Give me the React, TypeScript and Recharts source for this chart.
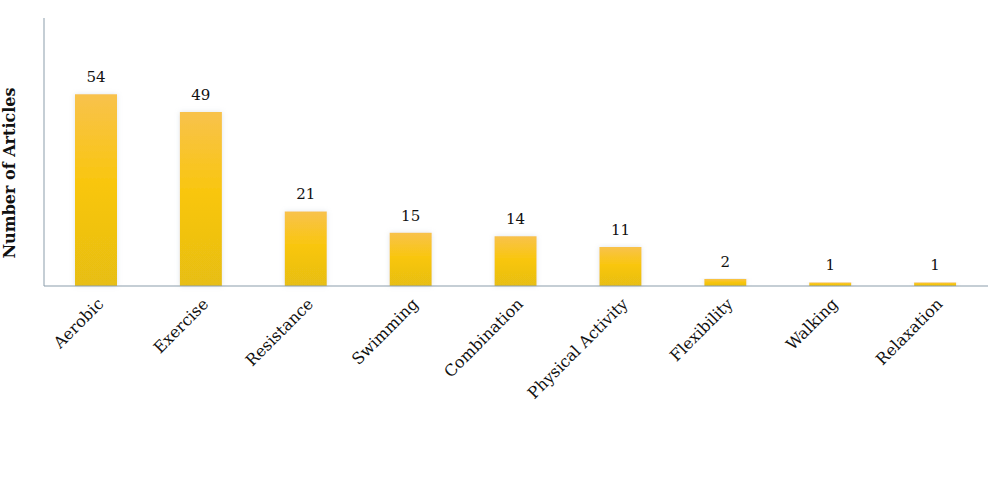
import React from 'react';
import { BarChart, Bar, XAxis, YAxis, LabelList, Label } from 'recharts';

const categories = ['Aerobic', 'Exercise', 'Resistance', 'Swimming', 'Combination', 'Physical Activity', 'Flexibility', 'Walking', 'Relaxation'];
const articleCounts = [54, 49, 21, 15, 14, 11, 2, 1, 1];
const yAxisTitle = 'Number of Articles';

const data = categories.map((name, i) => ({ name, value: articleCounts[i] }));

const FONT = '"DejaVu Serif", serif';

const YTitle = (props: any) => {
  const vb = props.viewBox || {};
  const cx = 15;
  const cy = vb.y + vb.height / 2 + 21;
  return (
    <text x={cx} y={cy} transform={`rotate(-90, ${cx}, ${cy})`} textAnchor="middle" fontFamily={FONT} fontWeight="bold" fontSize={16} fill="#111">
      {yAxisTitle}
    </text>
  );
};

export default function App() {
  return (
    <div style={{ position: 'absolute', left: 0, top: 0, width: 1000, height: 477, background: '#fff' }}>
      <BarChart width={1000} height={477} data={data} margin={{ top: 18, right: 12, bottom: 161, left: 10 }} barCategoryGap="20%">
        <defs>
          <linearGradient id="barGrad" x1="0" y1="0" x2="0" y2="1">
            <stop offset="0%" stopColor="#F8C24C" />
            <stop offset="45%" stopColor="#F9C610" />
            <stop offset="100%" stopColor="#E7BE12" />
          </linearGradient>
          <filter id="glow" x="-30%" y="-10%" width="160%" height="120%">
            <feDropShadow dx="0" dy="0" stdDeviation="2.5" floodColor="#9fb4c8" floodOpacity="0.35" />
          </filter>
        </defs>
        <XAxis
          dataKey="name"
          interval={0}
          height={30}
          axisLine={{ stroke: '#8B9DAB', strokeWidth: 1 }}
          tickLine={false}
          tickSize={0}
          tickMargin={11}
          angle={-45}
          textAnchor="end"
          tick={{ fontFamily: FONT, fontSize: 16, fill: '#111' }}
        />
        <YAxis
          width={34}
          domain={[0, 75.5]}
          tick={false}
          tickLine={false}
          axisLine={{ stroke: '#8B9DAB', strokeWidth: 1 }}
        >
          <Label content={<YTitle />} />
        </YAxis>
        <Bar dataKey="value" fill="url(#barGrad)" isAnimationActive={false} style={{ filter: 'url(#glow)' }} barSize={42}>
          <LabelList dataKey="value" position="top" offset={12} style={{ fontFamily: FONT, fontSize: 15, fill: '#111' }} />
        </Bar>
      </BarChart>
    </div>
  );
}
